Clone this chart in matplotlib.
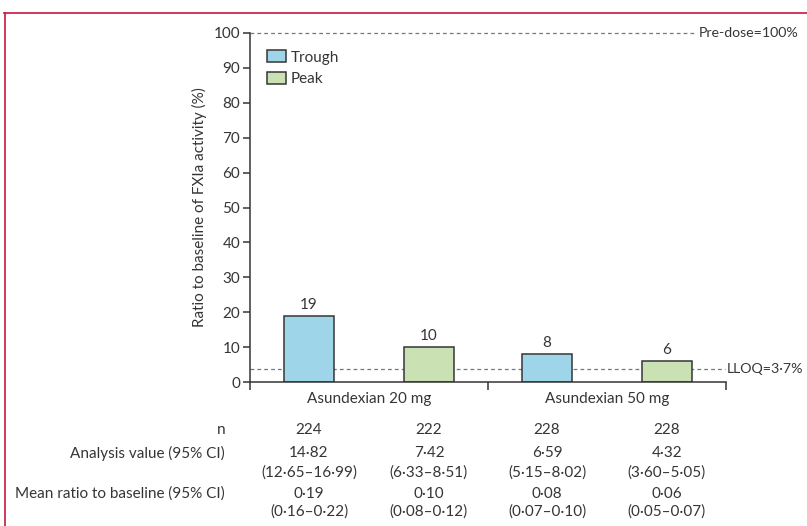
import matplotlib
matplotlib.use("Agg")
import matplotlib.pyplot as plt
from matplotlib.patches import Patch
from matplotlib.lines import Line2D
import matplotlib.transforms as mtransforms

plt.rcParams['font.family'] = ['Lato', 'DejaVu Sans']

groups = ["Asundexian 20 mg", "Asundexian 50 mg"]
series = ["Trough", "Peak"]
trough = [19, 8]
peak = [10, 6]
predose = 100
lloq = 3.7
predose_label = "Pre-dose=100%"
lloq_label = "LLOQ=3·7%"
yticks = [0, 10, 20, 30, 40, 50, 60, 70, 80, 90, 100]
ylabel = "Ratio to baseline of FXIa activity (%)"

row_labels = ["n", "Analysis value (95% CI)", "", "Mean ratio to baseline (95% CI)", ""]
n_vals = ["224", "222", "228", "228"]
analysis_vals = ["14·82", "7·42", "6·59", "4·32"]
analysis_ci = ["(12·65–16·99)", "(6·33–8·51)", "(5·15–8·02)", "(3·60–5·05)"]
mean_vals = ["0·19", "0·10", "0·08", "0·06"]
mean_ci = ["(0·16–0·22)", "(0·08–0·12)", "(0·07–0·10)", "(0·05–0·07)"]

txt = "#353535"
c_trough = "#9fd5e8"
c_peak = "#c9e1b3"
c_dash = "#5f7f8f"
c_border = "#c8173f"
fs = 11
fs_side = 10.2

W, H = 807, 526
fig = plt.figure(figsize=(W / 100, H / 100), dpi=100)
ax = fig.add_axes([250 / W, 1 - 382 / H, (726 - 250) / W, (382 - 33) / H])

# frame lines (top and left)
fig.add_artist(Line2D([4 / W, 1], [1 - 12.5 / H, 1 - 12.5 / H], color=c_border, lw=1.2, transform=fig.transFigure))
fig.add_artist(Line2D([4.5 / W, 4.5 / W], [0, 1 - 12.5 / H], color=c_border, lw=1.2, transform=fig.transFigure))

offset = 0.252
width = 0.21
centers = [0.5, 1.5]
xt = [c - offset for c in centers]
xp = [c + offset for c in centers]

# reference lines
ax.plot([0, 1.878], [predose, predose], ls=(0, (3, 2.5)), color=c_dash, lw=0.9, clip_on=False, zorder=1)
ax.text(1.886, predose, predose_label, ha="left", va="center", color=txt, fontsize=fs_side, clip_on=False)
ax.plot([0, 1.996], [lloq, lloq], ls=(0, (3, 2.5)), color=c_dash, lw=0.9, clip_on=False, zorder=1)
ax.text(2.002, lloq, lloq_label, ha="left", va="center", color=txt, fontsize=fs_side, clip_on=False)

ax.bar(xt, trough, width=width, color=c_trough, edgecolor=txt, lw=1.1, zorder=2)
ax.bar(xp, peak, width=width, color=c_peak, edgecolor=txt, lw=1.1, zorder=2)
for x, v in zip(xt, trough):
    ax.annotate(str(v), (x, v), xytext=(0, 3), textcoords="offset points", ha="center", va="bottom", color=txt, fontsize=fs)
for x, v in zip(xp, peak):
    ax.annotate(str(v), (x, v), xytext=(0, 3), textcoords="offset points", ha="center", va="bottom", color=txt, fontsize=fs)

ax.set_xlim(0, 2)
ax.set_ylim(0, 100)
for s in ["top", "right"]:
    ax.spines[s].set_visible(False)
for s in ["left", "bottom"]:
    ax.spines[s].set_color(txt)
    ax.spines[s].set_linewidth(1.1)

ax.set_yticks(yticks)
ax.tick_params(axis="y", direction="out", length=5, width=1.1, color=txt, labelcolor=txt, labelsize=fs, pad=2)
ax.set_xticks([0, 1, 2])
ax.set_xticklabels(["", "", ""])
ax.tick_params(axis="x", which="major", direction="out", length=6, width=1.1, color=txt)
ax.set_xticks(centers, minor=True)
ax.set_xticklabels(groups, minor=True)
ax.tick_params(axis="x", which="minor", length=0, labelcolor=txt, labelsize=fs, pad=7)
ax.set_ylabel(ylabel, color=txt, fontsize=fs, labelpad=5)

handles = [Patch(facecolor=c_trough, edgecolor=txt, lw=1.1, label=series[0]),
           Patch(facecolor=c_peak, edgecolor=txt, lw=1.1, label=series[1])]
leg = ax.legend(handles=handles, loc="upper left", bbox_to_anchor=(0.022, 0.968), frameon=False,
                handlelength=1.25, handleheight=0.85, handletextpad=0.35, labelspacing=0.45, fontsize=fs,
                borderaxespad=0)
for t in leg.get_texts():
    t.set_color(txt)

# table below
trans = mtransforms.blended_transform_factory(ax.transData, fig.transFigure)
row_y = [430, 453, 473, 494, 512]
for lab, y in zip(row_labels, row_y):
    if lab:
        fig.text(225 / W, 1 - y / H, lab, ha="right", va="center", color=txt, fontsize=fs)
cols = [xt[0], xp[0], xt[1], xp[1]]
rows = [n_vals, analysis_vals, analysis_ci, mean_vals, mean_ci]
for vals, y in zip(rows, row_y):
    for x, v in zip(cols, vals):
        fig.text(x, 1 - y / H, v, transform=trans, ha="center", va="center", color=txt, fontsize=fs)

fig.savefig("out.png", dpi=100)
